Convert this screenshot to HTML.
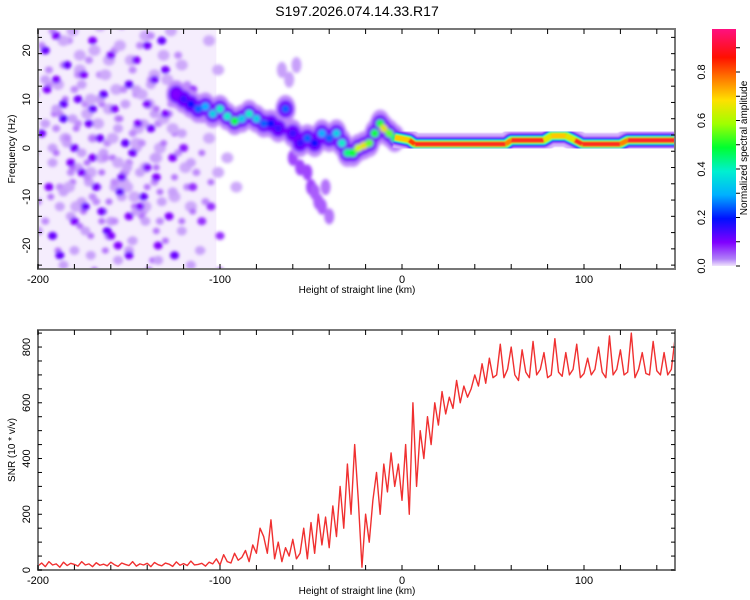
<!DOCTYPE html>
<html><head><meta charset="utf-8"><style>
body{margin:0;background:#fff;}
svg{display:block;font-family:"Liberation Sans",sans-serif;}
</style></head><body>
<svg id="c" width="750" height="600" viewBox="0 0 750 600">
<defs>
<filter id="bl" x="-50%" y="-50%" width="200%" height="200%"><feGaussianBlur stdDeviation="1.6"/></filter>
<filter id="bl2" x="-50%" y="-50%" width="200%" height="200%"><feGaussianBlur stdDeviation="0.8"/></filter>
<clipPath id="cp1"><rect x="38" y="29" width="637" height="240"/></clipPath>
<clipPath id="cp2"><rect x="38" y="330" width="637" height="240"/></clipPath>
<linearGradient id="cg" x1="0" y1="1" x2="0" y2="0">
<stop offset="0" stop-color="#f0e4fc"/><stop offset="0.03" stop-color="#b080f8"/><stop offset="0.1" stop-color="#8000ff"/>
<stop offset="0.2" stop-color="#0010ff"/><stop offset="0.3" stop-color="#00b0ff"/><stop offset="0.4" stop-color="#00f0d0"/>
<stop offset="0.5" stop-color="#00ff30"/><stop offset="0.6" stop-color="#a0ff00"/><stop offset="0.7" stop-color="#ffe000"/>
<stop offset="0.8" stop-color="#ff7000"/><stop offset="0.88" stop-color="#ff1000"/><stop offset="1" stop-color="#ff1080"/>
</linearGradient>
</defs>
<text x="357" y="16" text-anchor="middle" font-size="14">S197.2026.074.14.33.R17</text>
<g id="topPanel"></g>
<g id="botPanel"></g>
<g id="cbPanel"></g>
</svg>
<script>
// ---- data ----
const noiseX=[-196,-190,-186,-182,-178,-174,-170,-166,-162,-158,-154,-150,-146,-142,-138,-134,-130,-126,-194,-188,-180,-172,-164,-156,-148,-140,-132,-128,-198,-184,-176,-168,-160,-152,-144,-136,-192,-170,-150,-130,-186,-160,-140,-175,-155,-135,-195,-165,-145,-125,-180,-150,-190,-170,-140,-120,-115,-110,-105,-110,-100,-115];
const noiseF=[20,14,6,-3,10,-12,22,2,-17,8,-6,13,18,-10,4,-20,16,-2,-8,-22,-15,5,11,-20,-1,9,22,-14,3,17,-5,-8,19,1,-12,14,-18,-2,-22,7,9,-18,21,15,-9,-6,12,-13,5,-22,0,-14,23,8,-4,0,-8,-15,-12,6,-18,12];
const noiseA=[0.12,0.1,0.13,0.1,0.11,0.12,0.1,0.11,0.12,0.1,0.11,0.12,0.1,0.12,0.11,0.1,0.11,0.1,0.1,0.12,0.1,0.11,0.12,0.1,0.11,0.1,0.12,0.1,0.11,0.12,0.1,0.11,0.1,0.12,0.1,0.11,0.12,0.1,0.11,0.1,0.12,0.1,0.11,0.1,0.12,0.1,0.1,0.11,0.1,0.12,0.11,0.1,0.1,0.12,0.1,0.09,0.08,0.08,0.08,0.08,0.08,0.08];
const ridgeX=[-124,-120,-116,-112,-108,-104,-100,-96,-92,-88,-84,-80,-76,-72,-68,-64,-60,-56,-52,-48,-44,-40,-36,-33,-30,-27,-24,-21,-18,-15,-12,-10,-7,-4];
const ridgeF=[11,10,9,8,8.5,7,8,6.5,5.5,6,7,6,5,5,4,8,3,1,2,1,3,2,3,1,-1,-1,0,0.5,1,3,5,4,3,2];
const ridgeA=[0.15,0.2,0.25,0.3,0.35,0.4,0.45,0.45,0.55,0.4,0.45,0.4,0.3,0.25,0.2,0.3,0.2,0.2,0.3,0.25,0.35,0.3,0.4,0.45,0.5,0.55,0.65,0.7,0.6,0.55,0.55,0.7,0.6,0.5];
const plumeX=[-60,-56,-52,-50,-48,-46,-44,-42,-40,-62,-58,-66];
const plumeF=[-2,-4,-5,-8,-9,-11,-12,-8,-14,14,17,16];
const plumeA=[0.12,0.12,0.12,0.12,0.11,0.11,0.11,0.1,0.1,0.08,0.08,0.08];
const lineX=[-4,4,7,57,60,78,82,90,95,99,120,124,150];
const lineF=[2.2,1.6,0.8,0.8,1.6,1.6,2.5,2.5,1.6,0.8,0.8,1.6,1.6];
const lineA=[0.75,0.85,0.9,0.8,0.9,0.7,0.75,0.7,0.9,0.9,0.8,0.92,0.92];
const snr=[15,25,12,30,18,22,10,28,16,24,20,14,30,18,22,12,26,17,21,15,28,19,13,25,20,16,30,14,22,18,24,12,27,19,15,25,21,13,29,17,23,16,32,18,20,24,14,28,
22,40,18,55,30,25,60,35,45,70,30,90,60,150,
120,60,180,40,100,30,80,50,110,40,
60,150,40,170,60,200,90,190,80,230,
120,300,150,380,200,450,250,
10,200,100,
250,350,200,380,280,420,300,380,
250,450,200,600,300,500,400,550,
450,600,520,640,560,620,580,680,600,660,620,
650,700,660,740,670,760,690,
700,810,690,720,800,700,680,790,710,690,820,700,720,780,690,700,830,710,695,780,700,720,810,690,705,760,700,720,800,710,690,840,700,720,790,700,710,850,690,720,780,705,700,820,715,700,780,700,720,830];
// ---- scales ----
const X=k=>38+(k+200)*637/350;
const FY=f=>148-f*4.88;
const SY=v=>570-v*0.2787;
function col(a){const s=[[0,[240,228,252]],[0.08,[200,160,250]],[0.15,[128,0,255]],[0.25,[0,16,255]],[0.35,[0,176,255]],[0.45,[0,240,200]],[0.55,[0,255,48]],[0.65,[200,255,0]],[0.75,[255,200,0]],[0.85,[255,60,0]],[1,[255,16,80]]];
for(let i=1;i<s.length;i++){if(a<=s[i][0]){const t=(a-s[i-1][0])/(s[i][0]-s[i-1][0]);const c=s[i-1][1].map((v,j)=>Math.round(v+(s[i][1][j]-v)*t));return `rgb(${c})`;}}return 'rgb(255,16,80)';}
const NS='http://www.w3.org/2000/svg';
function mk(p,t,at){const e=document.createElementNS(NS,t);for(const k in at)e.setAttribute(k,at[k]);p.appendChild(e);return e;}
const gTop=document.getElementById('topPanel'),gBot=document.getElementById('botPanel'),gCb=document.getElementById('cbPanel');
// ---- spectrogram ----
const g1=mk(gTop,'g',{'clip-path':'url(#cp1)'});
const bg=mk(g1,'rect',{x:X(-200),y:29,width:X(-102)-X(-200),height:240,fill:'#f1e6fc',opacity:0.7});


const gb=mk(g1,'g',{filter:'url(#bl)'});
const offs=[[9,10,0.07,6],[-6,-9,0.08,5],[5,-13,0.1,3.5],[-8,7,0.09,4]];
noiseX.forEach((x,i)=>{offs.forEach(o=>{mk(gb,'ellipse',{cx:X(x+o[0]),cy:FY(noiseF[i]+o[1]),rx:o[3],ry:o[3]*0.9,fill:col(o[2])});});});
noiseX.forEach((x,i)=>{const c=mk(gb,'ellipse',{cx:X(x),cy:FY(noiseF[i]),rx:4.5,ry:4,fill:col(noiseA[i]+0.05)});

});
plumeX.forEach((x,i)=>{const c=mk(gb,'ellipse',{cx:X(x),cy:FY(plumeF[i]),rx:5,ry:8,fill:col(plumeA[i])});

});
ridgeX.forEach((x,i)=>{mk(gb,'ellipse',{cx:X(x),cy:FY(ridgeF[i]),rx:10,ry:14,fill:col(0.09)});});
ridgeX.forEach((x,i)=>{mk(gb,'ellipse',{cx:X(x),cy:FY(ridgeF[i]),rx:8,ry:9,fill:col(0.16)});});
ridgeX.forEach((x,i)=>{const c=mk(gb,'circle',{cx:X(x),cy:FY(ridgeF[i]),r:4,fill:col(ridgeA[i])});

});
const pts=lineX.map((x,i)=>X(x)+','+FY(lineF[i])).join(' ');
const gl=mk(g1,'g',{filter:'url(#bl2)',fill:'none','stroke-linejoin':'round'});
[[22,0.06],[16,0.1],[13,0.18],[11,0.28],[9,0.45],[7,0.62]].forEach(([w,a])=>mk(gl,'polyline',{points:pts,stroke:col(a),'stroke-width':w}));
lineX.forEach((x,i)=>{if(i<lineX.length-1){const s=mk(gl,'line',{x1:X(x),y1:FY(lineF[i]),x2:X(lineX[i+1]),y2:FY(lineF[i+1]),stroke:col(lineA[i]),'stroke-width':5});

}});
// ---- SNR ----
const g2=mk(gBot,'g',{'clip-path':'url(#cp2)'});
const sp=snr.map((v,i)=>X(-200+i*350/(snr.length-1))+','+SY(v)).join(' ');
const ln=mk(g2,'polyline',{points:sp,fill:'none',stroke:'#f03030','stroke-width':1.4,'stroke-linejoin':'round'});


// ---- axes ----
function frame(p,y0,y1,name){const r=mk(p,'rect',{x:38,y:y0,width:637,height:y1-y0,fill:'none',stroke:'#777','stroke-width':2});


for(let k=-200;k<=150;k+=20){const x=X(k);mk(p,'line',{x1:x,x2:x,y1:y0,y2:y0+5,stroke:'#000'});mk(p,'line',{x1:x,x2:x,y1:y1,y2:y1-5,stroke:'#000'});
if(k%100===0){const t=mk(p,'text',{x:x,y:y1+14,'text-anchor':'middle','font-size':11});t.textContent=k;

}}
const xt=mk(p,'text',{x:357,y:y1+24,'text-anchor':'middle','font-size':10});xt.textContent='Height of straight line (km)';

}
frame(gTop,29,269,'spectrogram-frame');frame(gBot,330,570,'snr-frame');
for(let f=-24;f<=24;f+=10/3){const y=FY(f);mk(gTop,'line',{x1:38,x2:42,y1:y,y2:y,stroke:'#000'});mk(gTop,'line',{x1:675,x2:671,y1:y,y2:y,stroke:'#000'});}
[-20,-10,0,10,20].forEach(f=>{const t=mk(gTop,'text',{transform:`translate(30,${FY(f)}) rotate(-90)`,'text-anchor':'middle','font-size':11});t.textContent=f;

});
const yt=mk(gTop,'text',{transform:'translate(15,149) rotate(-90)','text-anchor':'middle','font-size':10});yt.textContent='Frequency (Hz)';


for(let v=0;v<=850;v+=50){const y=SY(v);mk(gBot,'line',{x1:38,x2:42,y1:y,y2:y,stroke:'#000'});mk(gBot,'line',{x1:675,x2:671,y1:y,y2:y,stroke:'#000'});}
[0,200,400,600,800].forEach(v=>{const t=mk(gBot,'text',{transform:`translate(30,${SY(v)}) rotate(-90)`,'text-anchor':'middle','font-size':11});t.textContent=v;

});
const yt2=mk(gBot,'text',{transform:'translate(15,450) rotate(-90)','text-anchor':'middle','font-size':10});yt2.textContent='SNR (10 * v/v)';


// ---- colorbar ----
const CY=a=>266-a*242.5;
const cr=mk(gCb,'rect',{x:712,y:29,width:24,height:237,fill:'url(#cg)'});


for(let a=0;a<=0.95;a+=0.1){mk(gCb,'line',{x1:736,x2:740,y1:CY(a),y2:CY(a),stroke:'#000'});}
[0,0.2,0.4,0.6,0.8].forEach(a=>{const t=mk(gCb,'text',{transform:`translate(705,${CY(a)}) rotate(-90)`,'text-anchor':'middle','font-size':11});t.textContent=a.toFixed(1);

});
const ct=mk(gCb,'text',{transform:'translate(747,148) rotate(-90)','text-anchor':'middle','font-size':10});ct.textContent='Normalized spectral amplitude';


</script>
</body></html>
